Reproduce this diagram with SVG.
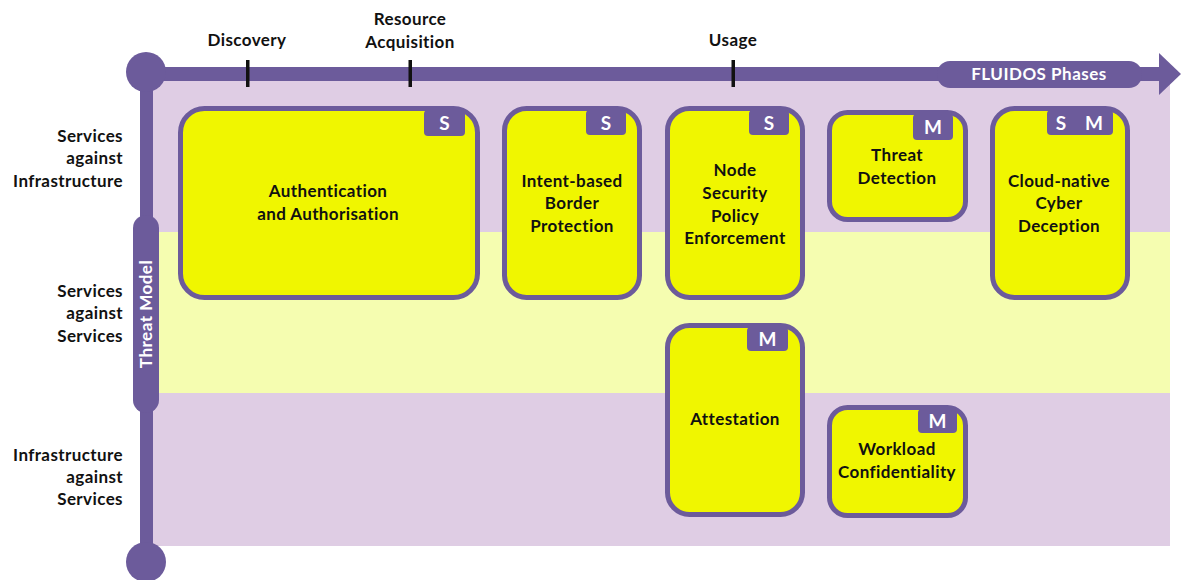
<svg xmlns="http://www.w3.org/2000/svg" width="1181" height="580" viewBox="0 0 1181 580">
<style>
.lbl{font-family:Lato,"Noto Sans",sans-serif;font-weight:700;font-size:17px;letter-spacing:0.4px;fill:#111;text-anchor:middle}
.row{font-family:Lato,"Noto Sans",sans-serif;font-weight:700;font-size:17px;letter-spacing:0.4px;fill:#111;text-anchor:end}
.box{fill:#f0f600;stroke:#6c5b9b;stroke-width:5}
.badge{fill:#6c5b9b}
.bt{font-family:Lato,"Noto Sans",sans-serif;font-weight:700;font-size:19px;fill:#fff;text-anchor:middle}
.wt{font-family:Lato,"Noto Sans",sans-serif;font-weight:700;font-size:17px;letter-spacing:0.5px;fill:#fff;text-anchor:middle}
</style>
<rect width="1181" height="580" fill="#fff"/>
<g id="bands">
<rect x="153" y="80" width="1017" height="152" fill="#dfcde4"/>
<rect x="153" y="232" width="1017" height="161" fill="#f5fdb0"/>
<rect x="153" y="393" width="1017" height="153" fill="#dfcde4"/>
</g>
<g id="axes">
<rect x="146" y="67" width="1016" height="14" fill="#6c5b9b"/>
<polygon points="1159,53 1181,74 1159,95" fill="#6c5b9b"/>
<rect x="140" y="72" width="13" height="490" fill="#6c5b9b"/>
<circle cx="146" cy="72" r="20" fill="#6c5b9b"/>
<circle cx="146" cy="562" r="20" fill="#6c5b9b"/>
<rect x="246" y="60" width="3.5" height="27" fill="#111"/>
<rect x="408.5" y="60" width="3.5" height="27" fill="#111"/>
<rect x="731.5" y="60" width="3.5" height="27" fill="#111"/>
<text class="lbl" x="247" y="46">Discovery</text>
<text class="lbl" x="410" y="25">Resource</text>
<text class="lbl" x="410" y="48">Acquisition</text>
<text class="lbl" x="733" y="46">Usage</text>
<rect x="937" y="61" width="205" height="27" rx="13" fill="#6c5b9b"/>
<text class="wt" x="1039" y="80">FLUIDOS Phases</text>
<rect x="133" y="215" width="26" height="198" rx="13" fill="#6c5b9b"/>
<text class="wt" transform="translate(152,314) rotate(-90)" x="0" y="0">Threat Model</text>
</g>
<g id="rows">
<text class="row" x="123" y="142">Services</text>
<text class="row" x="123" y="164">against</text>
<text class="row" x="123" y="187">Infrastructure</text>
<text class="row" x="123" y="297">Services</text>
<text class="row" x="123" y="319">against</text>
<text class="row" x="123" y="342">Services</text>
<text class="row" x="123" y="461">Infrastructure</text>
<text class="row" x="123" y="483">against</text>
<text class="row" x="123" y="505">Services</text>
</g>
<g id="n1">
<rect class="box" x="180.5" y="108.5" width="297" height="189" rx="24"/>
<rect class="badge" x="424" y="110" width="41" height="26" rx="4"/>
<text class="bt" x="444.5" y="130">S</text>
<text class="lbl" x="328" y="197">Authentication</text>
<text class="lbl" x="328" y="220">and Authorisation</text>
</g>
<g id="n2">
<rect class="box" x="504.5" y="108.5" width="135" height="189" rx="22"/>
<rect class="badge" x="586" y="110" width="40" height="25" rx="4"/>
<text class="bt" x="606" y="129.5">S</text>
<text class="lbl" x="572" y="187">Intent-based</text>
<text class="lbl" x="572" y="209">Border</text>
<text class="lbl" x="572" y="232">Protection</text>
</g>
<g id="n3">
<rect class="box" x="667.5" y="108.5" width="135" height="189" rx="22"/>
<rect class="badge" x="749" y="110" width="40" height="25" rx="4"/>
<text class="bt" x="769" y="129.5">S</text>
<text class="lbl" x="735" y="176">Node</text>
<text class="lbl" x="735" y="199">Security</text>
<text class="lbl" x="735" y="222">Policy</text>
<text class="lbl" x="735" y="244">Enforcement</text>
</g>
<g id="n4">
<rect class="box" x="829.5" y="112.5" width="136" height="107" rx="18"/>
<rect class="badge" x="913" y="114" width="40" height="26" rx="4"/>
<text class="bt" x="933" y="134">M</text>
<text class="lbl" x="897" y="161">Threat</text>
<text class="lbl" x="897" y="184">Detection</text>
</g>
<g id="n5">
<rect class="box" x="992.5" y="108.5" width="135" height="189" rx="22"/>
<rect class="badge" x="1047" y="110" width="66" height="25" rx="4"/>
<text class="bt" x="1061" y="129.5">S</text>
<text class="bt" x="1094" y="129.5">M</text>
<text class="lbl" x="1059" y="187">Cloud-native</text>
<text class="lbl" x="1059" y="209">Cyber</text>
<text class="lbl" x="1059" y="232">Deception</text>
</g>
<g id="n6">
<rect class="box" x="667.5" y="325.5" width="135" height="189" rx="22"/>
<rect class="badge" x="747" y="327" width="41" height="24" rx="4"/>
<text class="bt" x="767.5" y="345.5">M</text>
<text class="lbl" x="735" y="425">Attestation</text>
</g>
<g id="n7">
<rect class="box" x="829.5" y="407.5" width="136" height="108" rx="18"/>
<rect class="badge" x="918" y="409" width="39" height="24" rx="4"/>
<text class="bt" x="937.5" y="427.5">M</text>
<text class="lbl" x="897" y="455">Workload</text>
<text class="lbl" x="897" y="478">Confidentiality</text>
</g>
<g id="connectors"></g>
</svg>
